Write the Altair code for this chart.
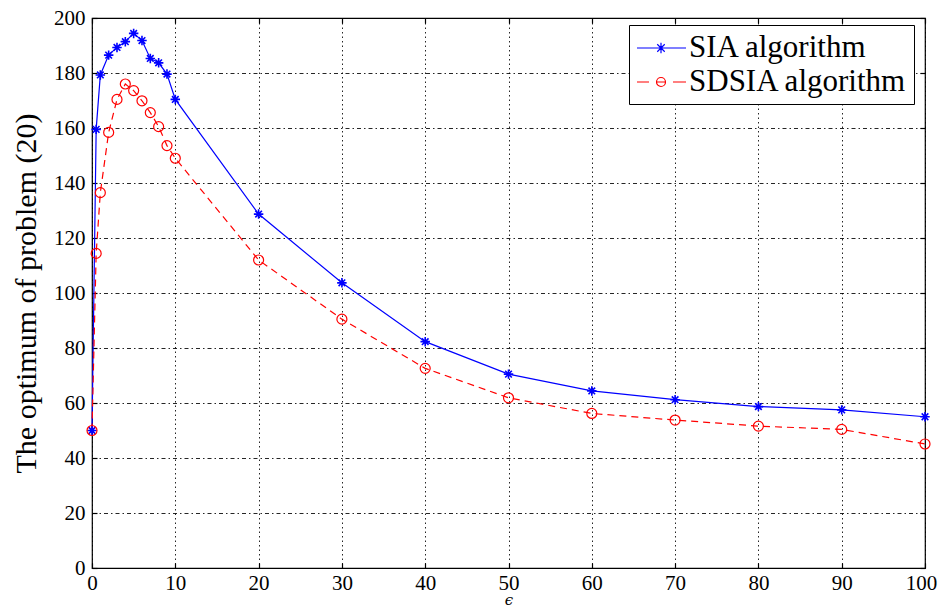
import altair as alt
import pandas as pd

eps = [0, 0.5, 1, 2, 3, 4, 5, 6, 7, 8, 9, 10, 20, 30, 40, 50, 60, 70, 80, 90, 100]
sia = [50, 159.5, 179.3, 186.5, 189.3, 191.4, 194.4, 191.8, 185.3, 183.7, 179.6,
       170.4, 128.7, 103.7, 82.3, 70.5, 64.4, 61.2, 58.7, 57.5, 55.0]
sdsia = [50, 114.4, 136.5, 158.4, 170.4, 176.0, 173.6, 169.9, 165.6, 160.5, 153.6,
         149.0, 112.0, 90.5, 72.6, 61.9, 56.2, 53.8, 51.6, 50.4, 45.1]
series_names = ["SIA algorithm", "SDSIA algorithm"]
x_ticks = [0, 10, 20, 30, 40, 50, 60, 70, 80, 90, 100]
y_ticks = [0, 20, 40, 60, 80, 100, 120, 140, 160, 180, 200]

df = pd.concat([
    pd.DataFrame({"eps": eps, "value": sia, "series": series_names[0]}),
    pd.DataFrame({"eps": eps, "value": sdsia, "series": series_names[1]}),
])

FONT = "Liberation Serif, Times New Roman, serif"
BLUE = "#0000ff"
RED = "#ff0000"

STAR = "M-1,0L1,0M0,-1L0,1M-0.7,-0.7L0.7,0.7M-0.7,0.7L0.7,-0.7"
LEG_SIA = ("M-1,0H2.27M0.25,0H0.95M0.6,-0.35V0.35"
           "M0.35,-0.25L0.85,0.25M0.35,0.25L0.85,-0.25")
LEG_SDSIA = ("M-1,0H-0.2M0.3,0H0.9M1.4,0H2.27"
             "M0.9,0A0.3,0.3 0 1,1 0.3,0A0.3,0.3 0 1,1 0.9,0")

xscale = alt.Scale(domain=[0, 100], nice=False, zero=False)
yscale = alt.Scale(domain=[0, 200], nice=False, zero=False)

x_main = alt.X("eps:Q", scale=xscale, axis=alt.Axis(
    values=x_ticks, orient="bottom", offset=-5, tickSize=5, tickWidth=1.2,
    tickColor="black", domain=False, grid=True, gridColor="black",
    gridDash=[1.5, 3], gridWidth=1, gridOpacity=0.85, labelFlush=False,
    labelOffset={"condition": {"test": "datum.value == 100", "value": -4}, "value": 0},
    labelFont=FONT, labelFontSize=21, labelColor="black", labelPadding=4,
    title="ϵ", titleFont="DejaVu Serif, serif", titleFontStyle="italic",
    titleFontWeight="normal", titleFontSize=15, titleColor="black",
    titlePadding=-1))
y_main = alt.Y("value:Q", scale=yscale, axis=alt.Axis(
    values=y_ticks, orient="left", offset=-5, tickSize=5, tickWidth=1.2,
    tickColor="black", domain=False, grid=True, gridColor="black",
    gridDash=[4, 3, 1.5, 3], gridWidth=1, gridOpacity=0.85, labelFlush=False,
    labelFont=FONT, labelFontSize=21, labelColor="black", labelPadding=7,
    title="The optimum of problem (20)", titleFont=FONT, titleFontSize=30,
    titleFontWeight="normal", titleColor="black", titlePadding=12))

base = alt.Chart(df).encode(x=x_main, y=y_main)

line_sia = base.mark_line(color=BLUE, strokeWidth=1.2).transform_filter(
    alt.datum.series == series_names[0])
line_sdsia = base.mark_line(color=RED, strokeWidth=1.2, strokeDash=[7, 5]).transform_filter(
    alt.datum.series == series_names[1])
pts_sia = base.mark_point(shape=STAR, size=90, color=BLUE, strokeWidth=1.6,
                          filled=False, opacity=1).transform_filter(
    alt.datum.series == series_names[0])
pts_sdsia = base.mark_point(shape="circle", size=100, color=RED, strokeWidth=1.2,
                            filled=False, opacity=1).transform_filter(
    alt.datum.series == series_names[1])

legend_layer = base.mark_point(opacity=0, filled=False, size=1).encode(
    color=alt.Color("series:N", scale=alt.Scale(domain=series_names, range=[BLUE, RED])),
    shape=alt.Shape("series:N",
                    scale=alt.Scale(domain=series_names, range=[LEG_SIA, LEG_SDSIA]),
                    legend=alt.Legend(
                        title=None, orient="none", legendX=537, legendY=7,
                        fillColor="white", strokeColor="black", padding=7,
                        rowPadding=3, symbolSize=900, symbolStrokeWidth=1.2,
                        symbolOpacity=1, symbolFillColor="transparent",
                        labelFont=FONT, labelFontSize=31, labelColor="black",
                        labelOffset=21, labelLimit=400)),
)

main = alt.layer(line_sia, line_sdsia, pts_sia, pts_sdsia, legend_layer)

frame = alt.Chart(df).mark_point(opacity=0, size=1).encode(
    x=alt.X("eps:Q", scale=xscale, axis=alt.Axis(
        values=x_ticks, orient="top", offset=-5, tickSize=5, tickWidth=1.2,
        tickColor="black", domain=False, grid=False, labels=False, title=None)),
    y=alt.Y("value:Q", scale=yscale, axis=alt.Axis(
        values=y_ticks, orient="right", offset=-5, tickSize=5, tickWidth=1.2,
        tickColor="black", domain=False, grid=False, labels=False, title=None)),
)

chart = alt.layer(main, frame).resolve_axis(x="independent", y="independent").properties(
    width=833, height=550,
    autosize=alt.AutoSizeParams(type="none"),
    padding={"left": 84, "top": 10, "right": 13, "bottom": 40},
    background="white",
).configure(
    font=FONT,
    style={"guide-label": {"font": FONT}, "guide-title": {"font": FONT}},
).configure_view(stroke="black", strokeWidth=1.2).configure_axis(
    labelFont=FONT, titleFont=FONT
).configure_legend(labelFont=FONT)

chart.save("out.html", embed_options={"renderer": "svg", "actions": False})
